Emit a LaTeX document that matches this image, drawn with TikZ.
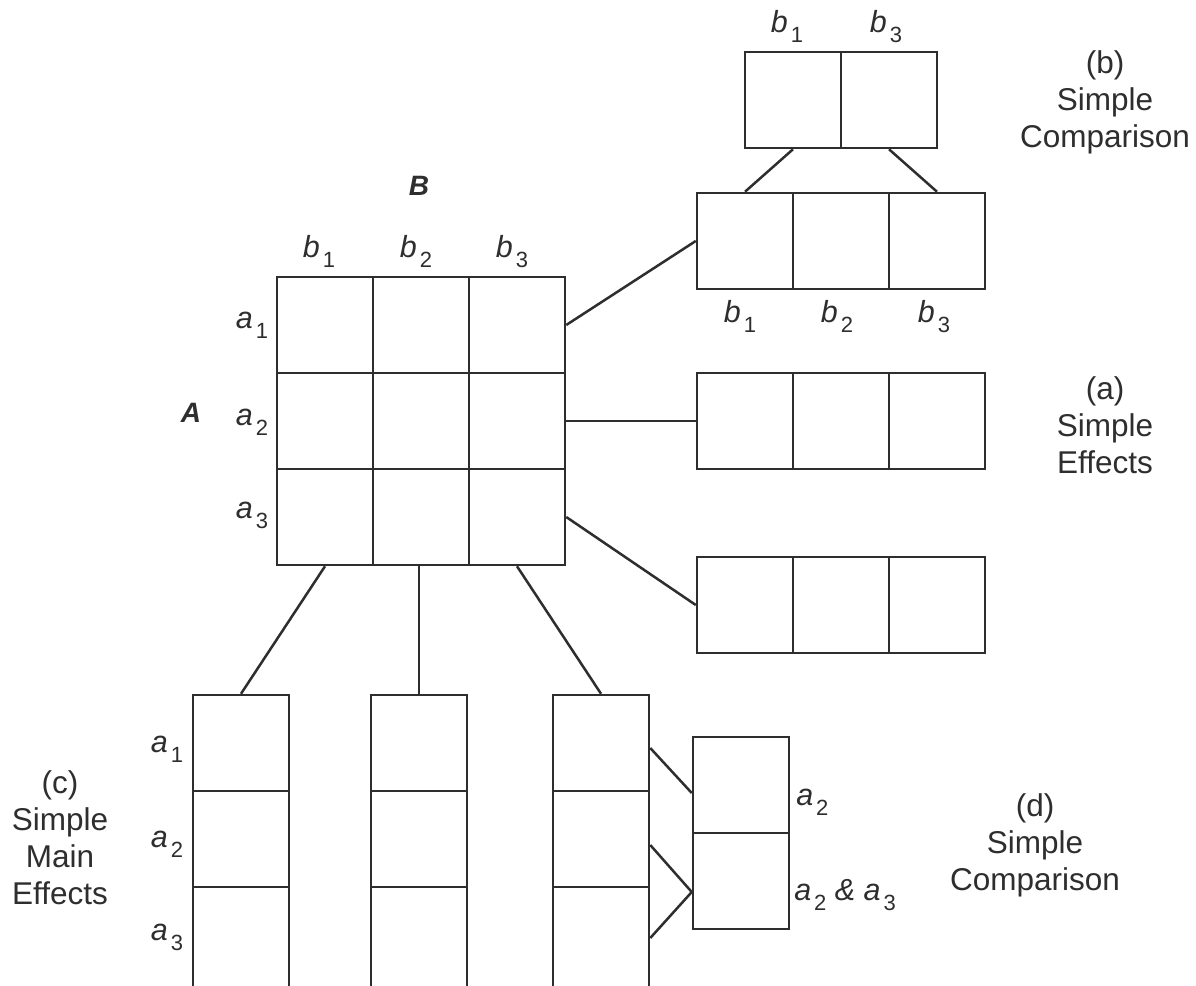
\documentclass[tikz,border=0pt]{standalone}
\usepackage{fontspec}
\setmainfont{Liberation Sans}
\definecolor{ink}{HTML}{2E2E2E}
\newcommand{\sv}[2]{\textit{#1}\kern3pt\raisebox{-10pt}{\fontsize{22}{22}\selectfont #2}}
\begin{document}
\begin{tikzpicture}[x=1pt,y=-1pt,line width=2.5pt,color=ink,
  cell/.style={draw=ink,rectangle,inner sep=0pt,minimum width=96pt,minimum height=96pt},
  tallcell/.style={cell,minimum height=120pt},
  lab/.style={font=\fontsize{30.5}{36}\selectfont,text=ink,inner sep=0pt,anchor=base},
  biglab/.style={font=\fontsize{28}{32}\selectfont\bfseries\itshape,text=ink,inner sep=0pt,anchor=base},
  captext/.style={font=\fontsize{31.5}{37}\selectfont,text=ink,align=center,inner sep=0pt},
  conn/.style={draw=ink,line width=2.5pt}]
\clip (0,0) rectangle (1196,985);
\fill[white] (0,0) rectangle (1196,985);
% main grid
\foreach \r/\y in {1/325,2/421,3/517}
  \foreach \c/\x in {1/325,2/421,3/517}
    \node[cell] (g\r\c) at (\x,\y) {};
% (b) simple comparison boxes
\node[cell] (tb1) at (793,100) {};
\node[cell] (tb3) at (889,100) {};
\node[cell] (bb1) at (745,241) {};
\node[cell] (bb2) at (841,241) {};
\node[cell] (bb3) at (937,241) {};
% (a) simple effects boxes
\node[cell] (ea1) at (745,421) {};
\node[cell] (ea2) at (841,421) {};
\node[cell] (ea3) at (937,421) {};
\node[cell] (ec1) at (745,605) {};
\node[cell] (ec2) at (841,605) {};
\node[cell] (ec3) at (937,605) {};
% (c) columns
\foreach \c/\x in {1/241,2/419,3/601}{
  \node[cell] (m\c1) at (\x,743) {};
  \node[cell] (m\c2) at (\x,839) {};
  \node[tallcell] (m\c3) at (\x,947) {};
}
% (d) box
\node[cell] (d1) at (741,785) {};
\node[cell] (d2) at (741,881) {};
% connectors
\draw[conn] (g13.east) -- (bb1.west);
\draw[conn] (g23.east) -- (ea1.west);
\draw[conn] (g33.east) -- (ec1.west);
\draw[conn] (g31.south) -- (m11.north);
\draw[conn] (g32.south -| m21.north) -- (m21.north);
\draw[conn] (g33.south) -- (m31.north);
\draw[conn] (tb1.south) -- (bb1.north);
\draw[conn] (tb3.south) -- (bb3.north);
\draw[conn] ([yshift=-5pt]m31.east) -- ([yshift=-8pt]d1.west);
\draw[conn] ([yshift=-6pt]m32.east) -- ([yshift=-11pt]d2.west);
\draw[conn] ([yshift=9pt]m33.east) -- ([yshift=-11pt]d2.west);
% labels
\node[biglab] (labB) at (419,195) {B};
\node[biglab] (labA) at (191,422) {A};
\node[lab] (gb1) at (319,257) {\sv{b}{1}};
\node[lab] (gb2) at (416,257) {\sv{b}{2}};
\node[lab] (gb3) at (512,257) {\sv{b}{3}};
\node[lab] (ga1) at (252,328) {\sv{a}{1}};
\node[lab] (ga2) at (252,425) {\sv{a}{2}};
\node[lab] (ga3) at (252,518) {\sv{a}{3}};
\node[lab] (tl1) at (787,32) {\sv{b}{1}};
\node[lab] (tl3) at (886,32) {\sv{b}{3}};
\node[lab] (bl1) at (740,322) {\sv{b}{1}};
\node[lab] (bl2) at (837,322) {\sv{b}{2}};
\node[lab] (bl3) at (934,322) {\sv{b}{3}};
\node[lab] (ca1) at (167,752) {\sv{a}{1}};
\node[lab] (ca2) at (167,847) {\sv{a}{2}};
\node[lab] (ca3) at (167,940) {\sv{a}{3}};
\node[lab,anchor=base west] (da2) at (795,805) {\sv{a}{2}};
\node[lab,anchor=base west] (da23) at (793,900) {\sv{a}{2} \textit{\&} \sv{a}{3}};
% captions
\node[captext] (capb) at (1105,102) {(b)\\Simple\\Comparison};
\node[captext] (capa) at (1105,425) {(a)\\Simple\\Effects};
\node[captext] (capd) at (1035,845) {(d)\\Simple\\Comparison};
\node[captext] (capc) at (60,838) {(c)\\Simple\\Main\\Effects};
\end{tikzpicture}
\end{document}
